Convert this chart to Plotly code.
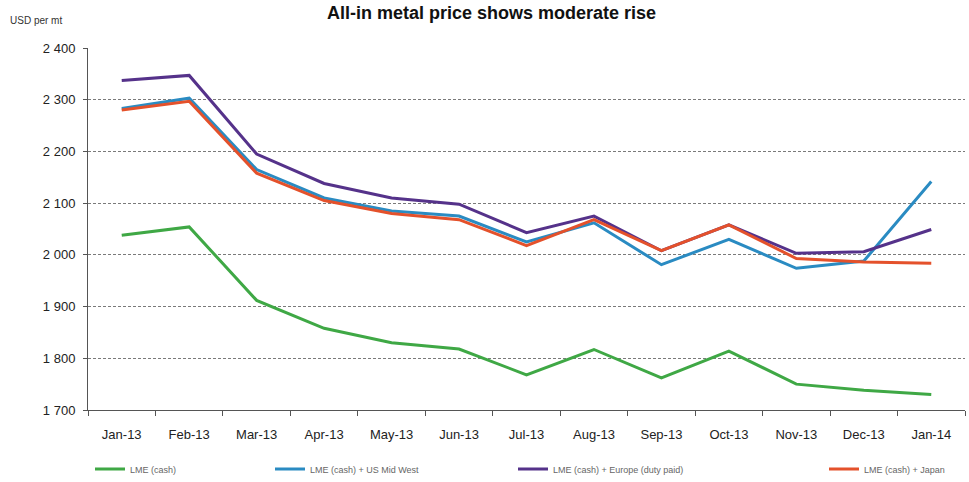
import plotly.graph_objects as go

months = ["Jan-13", "Feb-13", "Mar-13", "Apr-13", "May-13", "Jun-13", "Jul-13",
          "Aug-13", "Sep-13", "Oct-13", "Nov-13", "Dec-13", "Jan-14"]

lme_cash = [2038, 2054, 1912, 1858, 1830, 1818, 1768, 1817, 1762, 1814, 1750, 1738, 1730]
lme_us_midwest = [2283, 2303, 2165, 2110, 2085, 2075, 2025, 2062, 1981, 2030, 1974, 1988, 2142]
lme_europe = [2337, 2347, 2195, 2138, 2110, 2098, 2043, 2075, 2008, 2058, 2003, 2006, 2049]
lme_japan = [2280, 2297, 2158, 2105, 2080, 2068, 2018, 2068, 2008, 2058, 1993, 1986, 1984]

series_names = ["LME (cash)", "LME (cash) + US Mid West",
                "LME (cash) + Europe (duty paid)", "LME (cash) + Japan"]
series_values = [lme_cash, lme_us_midwest, lme_europe, lme_japan]
series_colors = ["#3fa845", "#2a8bc2", "#55328a", "#e4512b"]

y_ticks = [1700, 1800, 1900, 2000, 2100, 2200, 2300, 2400]
y_tick_text = ["1 700", "1 800", "1 900", "2 000", "2 100", "2 200", "2 300", "2 400"]

W, H = 969, 482
ML, MR, MT, MB = 88, 4, 48, 72
plot_w = W - ML - MR
plot_h = H - MT - MB

# legend entry left edges (pixels)
legend_px = [90, 270, 513, 824]
legend_keys = ["legend", "legend2", "legend3", "legend4"]

fig = go.Figure()
for name, vals, col, lk in zip(series_names, series_values, series_colors, legend_keys):
    fig.add_trace(go.Scatter(
        x=months, y=vals, mode="lines", name=name,
        line=dict(color=col, width=3),
        legend=lk,
    ))

legend_common = dict(
    orientation="h", yanchor="middle", xanchor="left",
    xref="container", yref="container",
    y=1 - 469 / H,
    font=dict(family="Arial, Liberation Sans, sans-serif", size=9, color="#666"),
    bgcolor="rgba(0,0,0,0)", itemwidth=30,
    tracegroupgap=0,
)
layout_legends = {}
for lk, px in zip(legend_keys, legend_px):
    d = dict(legend_common)
    d["x"] = px / W
    layout_legends[lk] = d

fig.update_layout(
    width=W, height=H,
    margin=dict(l=ML, r=MR, t=MT, b=MB, autoexpand=False),
    paper_bgcolor="white", plot_bgcolor="white",
    showlegend=True,
    font=dict(family="Arial, Liberation Sans, sans-serif", color="#222"),
    xaxis=dict(
        type="category", categoryorder="array", categoryarray=months,
        showgrid=False, showline=True, linecolor="#555", linewidth=1,
        ticks="outside", tickson="boundaries", ticklen=5, tickcolor="#555",
        ticklabelstandoff=12,
        tickfont=dict(size=13, color="#222"),
        range=[-0.5, len(months) - 0.5],
    ),
    yaxis=dict(
        range=[1700, 2400], tickvals=y_ticks, ticktext=y_tick_text,
        showgrid=True, gridcolor="#7a7a7a", gridwidth=1, griddash="3px,2px",
        showline=True, linecolor="#555", linewidth=1,
        ticks="outside", ticklen=4, tickcolor="#555",
        ticklabelstandoff=5,
        tickfont=dict(size=13, color="#222"),
        zeroline=False,
    ),
    **layout_legends,
)

fig.add_annotation(
    text="USD per mt", xref="paper", yref="paper",
    x=(8 - ML) / plot_w, y=1 + (MT - 21) / plot_h,
    xanchor="left", yanchor="middle", showarrow=False,
    font=dict(size=10, color="#333"),
)
fig.add_annotation(
    text="<b>All-in metal price shows moderate rise</b>", xref="paper", yref="paper",
    x=(491 - ML) / plot_w, y=1 + (MT - 1) / plot_h,
    xanchor="center", yanchor="top", showarrow=False,
    font=dict(size=18, color="#111"),
)

fig.write_html("out.html")
